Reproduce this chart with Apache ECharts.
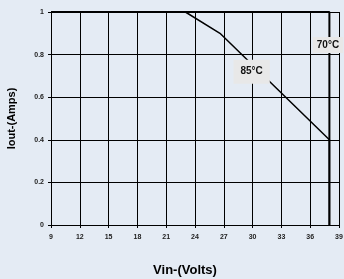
<!DOCTYPE html>
<html>
<head>
<meta charset="utf-8">
<script src="https://cdn.jsdelivr.net/npm/echarts@6/dist/echarts.min.js"></script>
<style>
html,body{margin:0;padding:0;background:#e4ebf4;}
#chart{width:344px;height:279px;}
</style>
</head>
<body>
<div id="chart"></div>
<script>
// 数据
var curve70 = [[9, 1], [38, 1], [38, 0]];
var curve85 = [[9, 1], [23, 1], [26.6, 0.9], [38, 0.4], [38, 0]];
var label70 = [37.85, 0.845];
var label85 = [29.9, 0.72];
var xTicks = [9, 39, 3];
var yTicks = [0, 1, 0.2];

var chart = echarts.init(document.getElementById('chart'));
var fontBase = 'Liberation Sans, Arial, sans-serif';

function tagPoint(name, coord, pad) {
    return {
        coord: coord,
        symbolSize: 0,
        label: {
            show: true,
            formatter: name,
            position: 'inside',
            color: '#111',
            fontFamily: fontBase,
            fontWeight: 'bold',
            fontSize: 10,
            backgroundColor: '#e8e8e8',
            padding: pad
        }
    };
}

var option = {
    backgroundColor: '#e4ebf4',
    animation: false,
    grid: {
        left: 51,
        right: 5,
        top: 12,
        bottom: 54,
        outerBoundsMode: 'none',
        containLabel: false
    },
    xAxis: {
        type: 'value',
        min: xTicks[0],
        max: xTicks[1],
        interval: xTicks[2],
        name: 'Vin-(Volts)',
        nameLocation: 'middle',
        nameGap: 39,
        nameTextStyle: {
            color: '#000',
            fontFamily: fontBase,
            fontWeight: 'bold',
            fontSize: 13,
            padding: [0, 20, 0, 0]
        },
        axisLine: { show: true, lineStyle: { color: '#000', width: 1 } },
        axisTick: { show: true, length: 3, lineStyle: { color: '#000' } },
        axisLabel: {
            color: '#222',
            fontFamily: fontBase,
            fontWeight: 'bold',
            fontSize: 7,
            margin: 9
        },
        splitLine: { show: true, lineStyle: { color: '#000', width: 1 } }
    },
    yAxis: {
        type: 'value',
        min: yTicks[0],
        max: yTicks[1],
        interval: yTicks[2],
        name: 'Iout-(Amps)',
        nameLocation: 'middle',
        nameGap: 34,
        nameTextStyle: {
            color: '#000',
            fontFamily: fontBase,
            fontWeight: 'bold',
            fontSize: 11
        },
        axisLine: { show: true, lineStyle: { color: '#000', width: 1 } },
        axisTick: { show: true, length: 3, lineStyle: { color: '#000' } },
        axisLabel: {
            color: '#222',
            fontFamily: fontBase,
            fontWeight: 'bold',
            fontSize: 7,
            margin: 7
        },
        splitLine: { show: true, lineStyle: { color: '#000', width: 1 } }
    },
    series: [
        {
            name: '70°C',
            type: 'line',
            data: curve70,
            symbol: 'none',
            lineStyle: { color: '#000', width: 2 },
            markPoint: { data: [tagPoint('70°C', label70, [3, 4, 3, 4])] }
        },
        {
            name: '85°C',
            type: 'line',
            data: curve85,
            symbol: 'none',
            lineStyle: { color: '#000', width: 1.5 },
            markPoint: { data: [tagPoint('85°C', label85, [7, 7, 7, 7])] }
        }
    ]
};

chart.setOption(option);
</script>
</body>
</html>
